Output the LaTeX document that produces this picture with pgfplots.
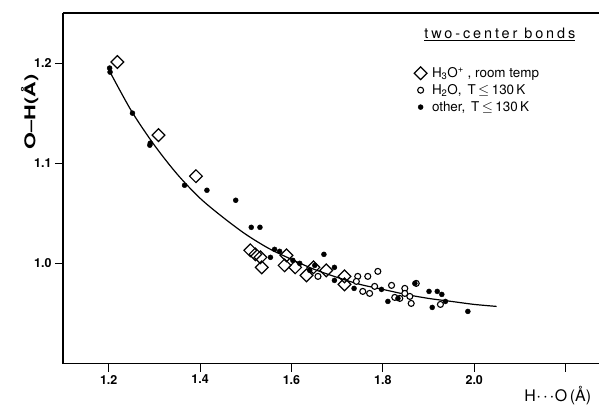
\documentclass[border=0pt]{standalone}
\usepackage{fontspec}
\setmainfont{TeX Gyre Heros}
\usepackage{pgfplots}
\pgfplotsset{compat=1.18}
\begin{document}
\begin{tikzpicture}
\begin{axis}[
  scale only axis,
  width=536bp, height=350.5bp,
  xmin=1.1, xmax=2.273, ymin=0.9, ymax=1.25,
  axis line style={draw=none},
  xtick={1.2,1.4,1.6,1.8,2.0,2.2},
  xticklabels={1.2,1.4,1.6,1.8,2.0,},
  ytick={1.0,1.1,1.2},
  yticklabels={1.0,1.1,1.2},
  tick align=outside, xtick pos=lower, ytick pos=left,
  major tick length=8bp,
  tick style={black, line width=1bp},
  tick label style={font=\fontsize{12.5}{15}\selectfont\bfseries},
  /pgf/number format/assume math mode=true,
  xlabel={H\kern0.5pt$\cdot\kern-2pt\cdot\kern-2pt\cdot$\kern0.5pt O\kern2.5pt(Å)},
  xlabel style={at={(axis description cs:0.923,-0.09)}, anchor=center, font=\fontsize{16}{19}\selectfont},
  ylabel={\addfontfeature{FakeStretch=1.45}O--H(Å)},
  ylabel style={at={(axis description cs:-0.062,0.718)}, anchor=center, font=\fontsize{15}{18}\selectfont\bfseries},
  legend style={draw=none, fill=none, at={(axis description cs:0.655,0.851)}, anchor=north west,
    font=\fontsize{13.5}{16}\selectfont, row sep=1.5bp, inner sep=0pt,
    /tikz/every odd column/.append style={column sep=3bp}},
  legend cell align=left,
  clip=false,
]
\coordinate (ll) at (rel axis cs:0,0);
\coordinate (ur) at (rel axis cs:1,1);
\draw[line width=1.2bp] (rel axis cs:0,1) -- (rel axis cs:0,0) -- (rel axis cs:1,0);
\draw[line width=2bp] (rel axis cs:0,1) -- (rel axis cs:1,1);

% fitted curve
\addplot[black, line width=1.2bp, smooth, forget plot] coordinates {
(1.203,1.191) (1.25,1.152) (1.30,1.118) (1.35,1.089) (1.40,1.065) (1.45,1.046)
(1.50,1.029) (1.55,1.015) (1.60,1.004) (1.65,0.994) (1.70,0.986) (1.75,0.979)
(1.80,0.974) (1.85,0.969) (1.90,0.965) (1.95,0.962) (2.00,0.959) (2.049,0.957)
};

% H3O+ room temp
\addplot[only marks, mark=square, mark size=4.5bp, mark options={rotate=45, line width=1.2bp, fill=white}] coordinates {
(1.219,1.201) (1.309,1.128) (1.391,1.087) (1.510,1.013) (1.521,1.009) (1.532,1.006)
(1.535,0.996) (1.589,1.008) (1.585,0.998) (1.608,0.996) (1.633,0.988) (1.648,0.996)
(1.676,0.993) (1.716,0.987) (1.716,0.979)
};
\addlegendentry{H\textsubscript{3}O\textsuperscript{+} , room temp}

% H2O T<=130K
\addplot[only marks, mark=*, mark size=3bp, mark options={line width=1.1bp, fill=white}] coordinates {
(1.658,0.987) (1.745,0.987) (1.767,0.987) (1.789,0.992) (1.742,0.982) (1.756,0.972)
(1.771,0.970) (1.782,0.977) (1.819,0.978) (1.826,0.966) (1.837,0.965) (1.848,0.975)
(1.848,0.970) (1.859,0.967) (1.862,0.960) (1.873,0.980) (1.926,0.959)
};
\addlegendentry{H\textsubscript{2}O,\, T$\,\leq\,$130\,K}

% other T<=130K
\addplot[only marks, mark=*, mark size=2.5bp, mark options={fill=black}] coordinates {
(1.202,1.195) (1.203,1.191) (1.252,1.150) (1.291,1.120) (1.290,1.118) (1.366,1.078)
(1.415,1.073) (1.478,1.063) (1.512,1.036) (1.531,1.036) (1.554,1.006) (1.563,1.014)
(1.574,1.012) (1.603,1.003) (1.618,1.000) (1.640,0.993) (1.651,0.998) (1.671,1.009)
(1.694,0.996) (1.694,0.983) (1.737,0.975) (1.797,0.974) (1.811,0.962) (1.833,0.965)
(1.870,0.980) (1.901,0.972) (1.919,0.972) (1.929,0.969) (1.908,0.956) (1.937,0.962)
(1.986,0.952)
};
\addlegendentry{other,\, T$\,\leq\,$130\,K}

\node[anchor=center, font=\fontsize{14.5}{17}\selectfont] at (axis description cs:0.815,0.94)
  {\underline{\addfontfeature{LetterSpace=20}two-center bonds}};
\end{axis}
\pgfresetboundingbox
\path[use as bounding box] ([xshift=-63bp,yshift=-41.5bp]ll) rectangle ([yshift=13bp]ur);
\end{tikzpicture}
\end{document}
